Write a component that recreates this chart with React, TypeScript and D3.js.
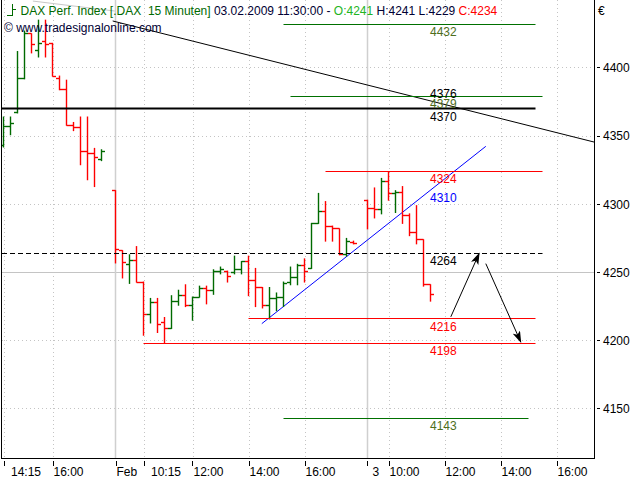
import React from 'react';
import * as d3 from 'd3';

// ---- data ----
const sessionStarts = [0, 16, 52];
const sessionLengths = [15, 35, 10];

const opens = [
  4343, 4357, 4367, 4392, 4425, 4413, 4419, 4418, 4392, 4384, 4358, 4356, 4339, 4337, 4333,
  4310, 4266, 4256, 4259, 4243, 4219, 4228, 4213, 4209, 4229, 4233, 4226, 4232, 4238, 4237,
  4251, 4251, 4250, 4252, 4258, 4244, 4239, 4226, 4231, 4232, 4243, 4246, 4255, 4253, 4286,
  4295, 4284, 4282, 4263, 4272,
  4303, 4297, 4296, 4317, 4308, 4309, 4292, 4279, 4274, 4241,
];
const highs = [
  4364, 4364, 4412, 4427, 4425, 4435, 4435, 4418, 4394, 4391, 4360, 4364, 4364, 4341, 4340,
  4310, 4266, 4263, 4269, 4243, 4231, 4231, 4217, 4233, 4237, 4241, 4232, 4240, 4240, 4252,
  4254, 4251, 4262, 4258, 4262, 4253, 4239, 4239, 4235, 4243, 4254, 4256, 4260, 4286, 4308,
  4302, 4284, 4282, 4275, 4273,
  4303, 4312, 4319, 4324, 4310, 4313, 4293, 4299, 4274, 4241,
];
const lows = [
  4342, 4351, 4367, 4392, 4411, 4408, 4408, 4394, 4384, 4358, 4354, 4329, 4318, 4313, 4332,
  4257, 4246, 4242, 4243, 4204, 4213, 4206, 4198, 4209, 4226, 4225, 4215, 4232, 4227, 4234,
  4249, 4243, 4249, 4249, 4233, 4225, 4224, 4216, 4222, 4225, 4241, 4241, 4243, 4253, 4286,
  4273, 4273, 4263, 4262, 4271,
  4282, 4290, 4293, 4303, 4294, 4286, 4277, 4271, 4240, 4229,
];
const closes = [
  4357, 4359, 4392, 4425, 4417, 4418, 4417, 4394, 4384, 4358, 4356, 4339, 4337, 4334, 4339,
  4267, 4257, 4259, 4243, 4219, 4228, 4212, 4209, 4229, 4233, 4226, 4232, 4238, 4237, 4251,
  4252, 4247, 4252, 4258, 4244, 4239, 4226, 4231, 4232, 4242, 4246, 4255, 4251, 4286, 4295,
  4284, 4282, 4263, 4273, 4271,
  4297, 4296, 4317, 4308, 4309, 4292, 4279, 4274, 4241, 4234,
];

const priceTicks = [4150, 4200, 4250, 4300, 4350, 4400];
const timeTickSlots = [0, 7, 16, 20, 27, 35, 43, 52, 55, 63, 71, 79];
const timeLabels = ['14:15', '16:00', 'Feb', '10:15', '12:00', '14:00', '16:00', '3', '10:00', '12:00', '14:00', '16:00'];
const dayBreakSlots = [16, 52];

// horizontal levels: value, first slot, last slot, kind
const levelValues = [4432, 4379, 4370, 4324, 4264, 4216, 4198, 4143];
const levelFrom = [40, 41, -0.4, 46, -0.4, 35, 20, 40];
const levelTo = [76, 77, 76, 77, 77, 76, 76, 75];
const levelKinds = ['green', 'green', 'bold', 'red', 'dashed', 'red', 'red', 'green'];

// trend lines: [slot, value] pairs
const downTrend = [[15.6, 4434.4], [84.4, 4345.6]];
const downTrendGhost = [[4.2, 4449], [15.9, 4441.7]];
const upTrend = [[36.9, 4212.5], [68.9, 4342.5]];
const trendLabelSlot = 61;

// arrows: [slot, value] start -> end
const arrowStarts = [[63.9, 4217.5], [68.9, 4256.5]];
const arrowEnds = [[67.95, 4264], [73.9, 4199]];

const header = {
  name: 'DAX Perf. Index [.DAX  15 Minuten]',
  stamp: '03.02.2009 11:30:00 -',
  o: 'O:4241',
  hl: 'H:4241 L:4229',
  c: 'C:4234',
};

// ---- styles ----
const FONT = '"Liberation Sans", Arial, sans-serif';
const GREEN = '#006a00';
const RED = '#ff0000';
const OLIVE = '#4e6e1c';
const GRID = '#c4c4c4';
const kindStyle: Record<string, { stroke: string; width: number; dash?: string; label: string }> = {
  green: { stroke: '#007000', width: 1, label: OLIVE },
  red: { stroke: RED, width: 1, label: RED },
  bold: { stroke: '#000', width: 2, label: '#000' },
  dashed: { stroke: '#000', width: 1, dash: '5,3', label: '#000' },
};

export default function App() {
  const left = 2, right = 594, top = 0, bottom = 458;
  const x = d3.scaleLinear().domain([0, 79]).range([3.5, 556.5]);
  const y = d3.scaleLinear().domain([4200, 4400]).range([340.7, 67.9]);
  const cy = (v: number) => Math.round(y(v) - 0.5) + 0.5;

  const slots: number[] = [];
  sessionStarts.forEach((s, k) => {
    for (let i = 0; i < sessionLengths[k]; i++) slots.push(s + i);
  });

  const labelX = x(trendLabelSlot) - 0.5;
  const line = d3.line<number[]>().x((d) => x(d[0])).y((d) => y(d[1]));
  const valAt = (pts: number[][], s: number) =>
    pts[0][1] + ((pts[1][1] - pts[0][1]) * (s - pts[0][0])) / (pts[1][0] - pts[0][0]);

  const labelOffset = (lbl: string) => (lbl === '3' ? 5 : lbl.endsWith(':15') ? 7.5 : 1);

  return (
    <svg width={640} height={480} style={{ display: 'block', position: 'absolute', left: 0, top: 0, background: '#fff' }}>
      <defs>
        <clipPath id="plot">
          <rect x={left} y={top} width={right - left} height={bottom - top} />
        </clipPath>
        <marker id="ah" viewBox="0 0 12 8" refX="11" refY="4" markerWidth="12" markerHeight="8" orient="auto" markerUnits="userSpaceOnUse">
          <path d="M0,0 L12,4 L0,8 L3,4 Z" fill="#000" />
        </marker>
      </defs>
      <rect x={0} y={0} width={640} height={480} fill="#fff" />

      <g clipPath="url(#plot)">
        {/* grid */}
        {priceTicks.map((p) => (
          <line key={'hg' + p} x1={left} x2={right} y1={cy(p)} y2={cy(p)} stroke={GRID}
            strokeDasharray={p === 4250 ? undefined : '1,3'} strokeWidth={1} />
        ))}
        {timeTickSlots.map((s, i) =>
          dayBreakSlots.includes(s) ? (
            <line key={'vg' + i} x1={x(s)} x2={x(s)} y1={top} y2={bottom} stroke="#cfcfcf" strokeWidth={1.5} />
          ) : (
            <line key={'vg' + i} x1={x(s) + 1} x2={x(s) + 1} y1={top} y2={bottom} stroke={GRID} strokeDasharray="1,3" strokeWidth={1} />
          )
        )}

        {/* ghost + trend lines */}
        <path d={line(downTrendGhost) || ''} stroke="#c8c8c8" strokeWidth={1} fill="none" />
        <path d={line(downTrend) || ''} stroke="#000" strokeWidth={1} fill="none" />
        <path d={line(upTrend) || ''} stroke="#0000ff" strokeWidth={1} fill="none" />

        {/* bars */}
        {slots.map((s, i) => {
          const o = opens[i], h = highs[i], l = lows[i], c = closes[i];
          const col = c >= o ? GREEN : RED;
          const xx = x(s);
          return (
            <g key={'b' + i} stroke={col} strokeWidth={1.4}>
              <line x1={xx} x2={xx} y1={y(h) - 0.5} y2={y(l) + 0.5} />
              <line x1={xx - 3.5} x2={xx} y1={cy(o)} y2={cy(o)} />
              <line x1={xx} x2={xx + 3.5} y1={cy(c)} y2={cy(c)} />
            </g>
          );
        })}

        {/* levels */}
        {levelValues.map((v, i) => {
          const st = kindStyle[levelKinds[i]];
          return (
            <line key={'lv' + i} x1={Math.max(left, x(levelFrom[i]))} x2={x(levelTo[i])} y1={cy(v)} y2={cy(v)}
              stroke={st.stroke} strokeWidth={st.width} strokeDasharray={st.dash} />
          );
        })}

        {/* arrows */}
        {arrowStarts.map((a, i) => (
          <line key={'ar' + i} x1={x(a[0])} y1={y(a[1])} x2={x(arrowEnds[i][0])} y2={y(arrowEnds[i][1])}
            stroke="#000" strokeWidth={1} markerEnd="url(#ah)" />
        ))}
      </g>

      {/* level labels */}
      <g fontFamily={FONT} fontSize={12}>
        {levelValues.map((v, i) => {
          const st = kindStyle[levelKinds[i]];
          return (
            <text key={'ll' + i} x={labelX} y={y(v) + 11.8} fill={st.label}>{v}</text>
          );
        })}
        <text x={labelX} y={y(valAt(downTrend, trendLabelSlot)) - 2.8} fill="#000">
          {Math.round(valAt(downTrend, trendLabelSlot))}
        </text>
        <text x={labelX} y={y(valAt(upTrend, trendLabelSlot)) + 11.5} fill="#0000ff">
          {Math.round(valAt(upTrend, trendLabelSlot))}
        </text>
      </g>

      {/* frame */}
      <line x1={1.5} x2={1.5} y1={0} y2={bottom + 0.5} stroke="#000" />
      <line x1={594.5} x2={594.5} y1={0} y2={bottom + 0.5} stroke="#000" />
      <line x1={1} x2={595} y1={bottom + 0.5} y2={bottom + 0.5} stroke="#000" />

      {/* y axis */}
      <g fontFamily={FONT} fontSize={12} fill="#000">
        {priceTicks.map((p) => (
          <g key={'yt' + p}>
            <line x1={597} x2={600} y1={cy(p)} y2={cy(p)} stroke="#000" />
            <text x={603} y={y(p) + 4.3}>{p}</text>
          </g>
        ))}
        <text x={598} y={15}>€</text>
      </g>

      {/* x axis */}
      <g fontFamily={FONT} fontSize={12} fill="#000">
        {timeTickSlots.map((s, i) => (
          <g key={'xt' + i}>
            <line x1={Math.round(x(s)) + 0.5} x2={Math.round(x(s)) + 0.5} y1={461} y2={466} stroke="#000" />
            <text x={x(s) + labelOffset(timeLabels[i])} y={475.5}>{timeLabels[i]}</text>
          </g>
        ))}
      </g>

      {/* header */}
      <g stroke={GREEN} strokeWidth={1}>
        <line x1={12.5} x2={12.5} y1={4} y2={16} />
        <line x1={7} x2={12.5} y1={15.5} y2={15.5} />
        <line x1={12.5} x2={16} y1={9.5} y2={9.5} />
      </g>
      <text x={20.5} y={14.5} fontFamily={FONT} fontSize={12} style={{ whiteSpace: 'pre' }}>
        <tspan fill={GREEN}>{header.name}</tspan>
        <tspan fill="#000033">{' ' + header.stamp + ' '}</tspan>
        <tspan fill="#22b422">{header.o}</tspan>
        <tspan fill="#000033">{' ' + header.hl + ' '}</tspan>
        <tspan fill={RED}>{header.c}</tspan>
      </text>
      <text x={4} y={32} fontFamily={FONT} fontSize={12} fill="#000033">© www.tradesignalonline.com</text>
    </svg>
  );
}
